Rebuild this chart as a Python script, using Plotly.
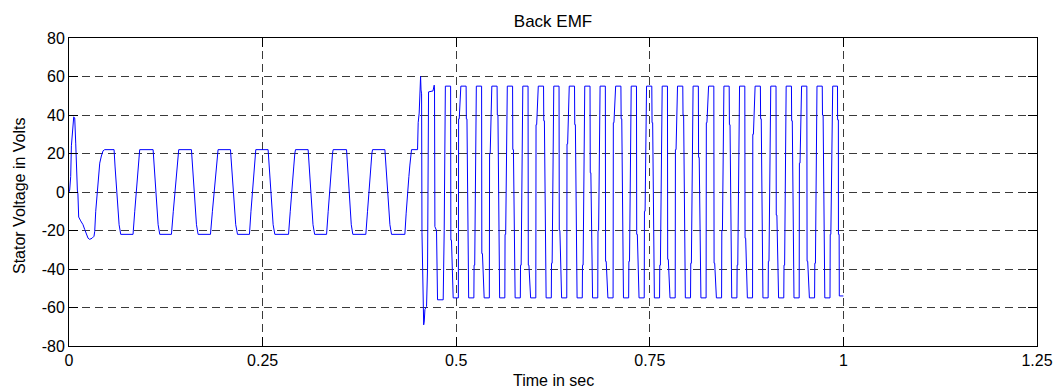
import plotly.graph_objects as go

# ---------------- text / ticks ----------------
title_text = "Back EMF"
x_label = "Time in sec"
y_label = "Stator Voltage in Volts"
x_tick_vals = [0, 0.25, 0.5, 0.75, 1.0, 1.25]
x_tick_text = ["0", "0.25", "0.5", "0.75", "1", "1.25"]
y_tick_vals = [-80, -60, -40, -20, 0, 20, 40, 60, 80]
y_tick_text = ["-80", "-60", "-40", "-20", "0", "20", "40", "60", "80"]

# ---------------- data ----------------
# start-up transient
t_startup = [0.0000, 0.0009, 0.0022, 0.0031, 0.0061, 0.0074, 0.0087, 0.0095, 0.0108, 0.0115,
             0.0125, 0.0151, 0.0181, 0.0203, 0.0224, 0.0246, 0.0267, 0.0298, 0.0323, 0.0332,
             0.0345, 0.0362, 0.0375, 0.0397, 0.0418, 0.0440]
v_startup = [0, 1, 8, 24, 39, 38.5, 25, 12, 1, -1,
             -13, -15, -17, -19.5, -22, -24, -24.6, -24, -23, -20.5,
             -10, 0, 7, 15, 18.7, 21.4]

# low-speed trapezoidal back EMF (about +/-22 V)
t_low = [
    0.0461, 0.0582, 0.0595, 0.0616, 0.0629, 0.0647, 0.0668, 0.0827, 0.0849, 0.0870, 0.0892, 0.0904,
    0.0913, 0.1086, 0.1099, 0.1120, 0.1133, 0.1151, 0.1172, 0.1323, 0.1347, 0.1370, 0.1394, 0.1408,
    0.1417, 0.1581, 0.1594, 0.1615, 0.1628, 0.1646, 0.1667, 0.1827, 0.1852, 0.1876, 0.1901, 0.1915,
    0.1925, 0.2085, 0.2099, 0.2121, 0.2135, 0.2153, 0.2176, 0.2330, 0.2350, 0.2371, 0.2392, 0.2404,
    0.2412, 0.2571, 0.2584, 0.2606, 0.2619, 0.2636, 0.2658, 0.2835, 0.2857, 0.2880, 0.2902, 0.2916,
    0.2925, 0.3088, 0.3101, 0.3122, 0.3135, 0.3151, 0.3172, 0.3326, 0.3347, 0.3369, 0.3390, 0.3403,
    0.3411, 0.3584, 0.3596, 0.3616, 0.3629, 0.3645, 0.3665, 0.3833, 0.3855, 0.3877, 0.3898, 0.3911,
    0.3920, 0.4079, 0.4092, 0.4113, 0.4126, 0.4144, 0.4165, 0.4337, 0.4354, 0.4372, 0.4389, 0.4402, 0.4415,
]
v_low = [
    22, 22, 13, 1, -10, -17, -22, -22, -10, 0, 13, 20,
    22, 22, 13, 1, -10, -17, -22, -22, -10, 0, 13, 20,
    22, 22, 13, 1, -10, -17, -22, -22, -10, 0, 13, 20,
    22, 22, 13, 1, -10, -17, -22, -22, -10, 0, 13, 20,
    22, 22, 13, 1, -10, -17, -22, -22, -10, 0, 13, 20,
    22, 22, 13, 1, -10, -17, -22, -22, -10, 0, 13, 20,
    22, 22, 13, 1, -10, -17, -22, -22, -10, 0, 13, 20,
    22, 22, 13, 1, -10, -17, -22, -22, -11, 1, 8, 14, 19.3,
]

# speed-change transient
t_trans = [0.4423, 0.4501, 0.4509, 0.4522, 0.4531, 0.4540, 0.4546, 0.4553, 0.4558, 0.4570,
           0.4580, 0.4588, 0.4596, 0.4617, 0.4630, 0.4643, 0.4700, 0.4712, 0.4716, 0.4720,
           0.4725, 0.4746, 0.4759, 0.4832, 0.4845]
v_trans = [22, 22, 36, 41, 51.5, 60, 53, 51, -21, -40,
           -69, -67, -61, -59.5, -39.5, 52, 52.5, 54, 55.5, 53,
           -18, -20, -56, -56, -20]

# high-speed trapezoidal back EMF (about +/-55 V)
t_high = [
    0.4860, 0.4928, 0.4931, 0.4939, 0.4961, 0.5028, 0.5031, 0.5039,
    0.5060, 0.5128, 0.5131, 0.5139, 0.5161, 0.5228, 0.5231, 0.5239,
    0.5260, 0.5328, 0.5331, 0.5339, 0.5361, 0.5428, 0.5431, 0.5439,
    0.5460, 0.5528, 0.5531, 0.5539, 0.5561, 0.5628, 0.5631, 0.5639,
    0.5660, 0.5728, 0.5731, 0.5739, 0.5761, 0.5828, 0.5831, 0.5839,
    0.5860, 0.5928, 0.5931, 0.5939, 0.5961, 0.6028, 0.6031, 0.6039,
    0.6060, 0.6128, 0.6131, 0.6139, 0.6161, 0.6228, 0.6231, 0.6239,
    0.6260, 0.6328, 0.6331, 0.6339, 0.6361, 0.6428, 0.6431, 0.6439,
    0.6460, 0.6528, 0.6531, 0.6539, 0.6561, 0.6628, 0.6631, 0.6639,
    0.6660, 0.6728, 0.6731, 0.6739, 0.6761, 0.6828, 0.6831, 0.6839,
    0.6858, 0.6926, 0.6929, 0.6937, 0.6959, 0.7026, 0.7029, 0.7037,
    0.7059, 0.7127, 0.7130, 0.7138, 0.7160, 0.7227, 0.7230, 0.7238,
    0.7260, 0.7328, 0.7331, 0.7339, 0.7361, 0.7428, 0.7431, 0.7439,
    0.7458, 0.7526, 0.7529, 0.7537, 0.7559, 0.7626, 0.7629, 0.7637,
    0.7660, 0.7728, 0.7731, 0.7739, 0.7761, 0.7828, 0.7831, 0.7839,
    0.7858, 0.7926, 0.7929, 0.7937, 0.7959, 0.8026, 0.8029, 0.8037,
    0.8059, 0.8127, 0.8130, 0.8138, 0.8160, 0.8227, 0.8230, 0.8238,
    0.8259, 0.8327, 0.8330, 0.8338, 0.8360, 0.8427, 0.8430, 0.8438,
    0.8457, 0.8525, 0.8528, 0.8536, 0.8558, 0.8625, 0.8628, 0.8636,
    0.8659, 0.8727, 0.8730, 0.8738, 0.8760, 0.8827, 0.8830, 0.8838,
    0.8860, 0.8928, 0.8931, 0.8939, 0.8961, 0.9028, 0.9031, 0.9039,
    0.9062, 0.9130, 0.9133, 0.9141, 0.9163, 0.9230, 0.9233, 0.9241,
    0.9261, 0.9329, 0.9332, 0.9340, 0.9362, 0.9429, 0.9432, 0.9440,
    0.9460, 0.9528, 0.9531, 0.9539, 0.9561, 0.9628, 0.9631, 0.9639,
    0.9659, 0.9727, 0.9730, 0.9738, 0.9760, 0.9827, 0.9830, 0.9838,
    0.9862, 0.9924, 0.9925, 0.9935, 0.9936, 0.9945, 0.9947, 1.0000,
]
v_high = [
    55, 55, -25, -25, -55, -55, 38, 38,
    55, 55, 38, 38, -55, -55, -38, -38,
    55, 55, -32, -32, -55, -55, 20, 20,
    55, 55, 40, 40, -55, -55, -22, -22,
    55, 55, 22, 22, -55, -55, -38, -38,
    55, 55, -38, -38, -55, -55, 35, 35,
    55, 55, 37, 37, -55, -55, -37, -37,
    55, 55, -20, -20, -55, -55, 25, 25,
    55, 55, 35, 35, -55, -55, -38, -38,
    55, 55, 10, 10, -55, -55, -20, -20,
    55, 55, -36, -36, -55, -55, 36, 36,
    55, 55, 38, 38, -55, -55, -36, -36,
    55, 55, -22, -22, -55, -55, -10, -10,
    55, 55, 36, 36, -55, -55, -38, -38,
    55, 55, -35, -35, -55, -55, 22, 22,
    55, 55, 40, 40, -55, -55, -37, -37,
    55, 55, 18, 18, -55, -55, 36, 36,
    55, 55, -37, -37, -55, -55, -20, -20,
    55, 55, 35, 35, -55, -55, -38, -38,
    55, 55, -24, -24, -55, -55, 30, 30,
    55, 55, 38, 38, -55, -55, -36, -36,
    55, 55, -12, -12, -55, -55, -38, -38,
    55, 55, 37, 37, -55, -55, 15, 15,
    55, 55, -36, -36, -55, -55, -37, -37,
    55, 55, 40, 40, -55, -55, -22, -22,
    55, 55, 37.5, 37.5, -22, -22, -54, -54,
]

time_s = t_startup + t_low + t_trans + t_high
voltage = v_startup + v_low + v_trans + v_high

# ---------------- figure ----------------
FONT = "Liberation Sans, Arial, Helvetica, sans-serif"

fig = go.Figure()
fig.add_trace(go.Scatter(
    x=time_s, y=voltage, mode="lines",
    line=dict(color="#0000ff", width=1),
    showlegend=False, hoverinfo="x+y",
))

axis_common = dict(
    showline=True, linecolor="black", linewidth=1, mirror="ticks",
    ticks="inside", ticklen=9, tickwidth=1, tickcolor="black",
    showgrid=True, gridcolor="#3a3a3a", gridwidth=1, griddash="8px,5px",
    zeroline=False, automargin=False,
    tickfont=dict(family=FONT, size=16, color="black"),
)

fig.update_layout(
    width=1060, height=389,
    autosize=False,
    margin=dict(l=69, r=23, t=38, b=43, pad=0),
    paper_bgcolor="white", plot_bgcolor="white",
    font=dict(family=FONT, color="black"),
    title=dict(text=title_text, xref="paper", x=0.5, xanchor="center",
               yref="container", y=0.946, yanchor="middle",
               font=dict(family=FONT, size=17, color="black")),
    xaxis=dict(range=[0, 1.25], tickvals=x_tick_vals, ticktext=x_tick_text, **axis_common),
    yaxis=dict(range=[-80, 80], tickvals=y_tick_vals, ticktext=y_tick_text, **axis_common),
    annotations=[
        dict(text=x_label, xref="paper", yref="paper", x=0.5, y=-0.112,
             xanchor="center", yanchor="middle", showarrow=False,
             font=dict(family=FONT, size=16, color="black")),
        dict(text=y_label, xref="paper", yref="paper", x=-0.0517, y=0.49,
             xanchor="center", yanchor="middle", showarrow=False, textangle=-90,
             font=dict(family=FONT, size=16, color="black")),
    ],
)

fig.write_html("out.html",
               config={"displayModeBar": False},
               post_script="document.body.style.margin='0px';document.body.style.overflow='hidden';")
